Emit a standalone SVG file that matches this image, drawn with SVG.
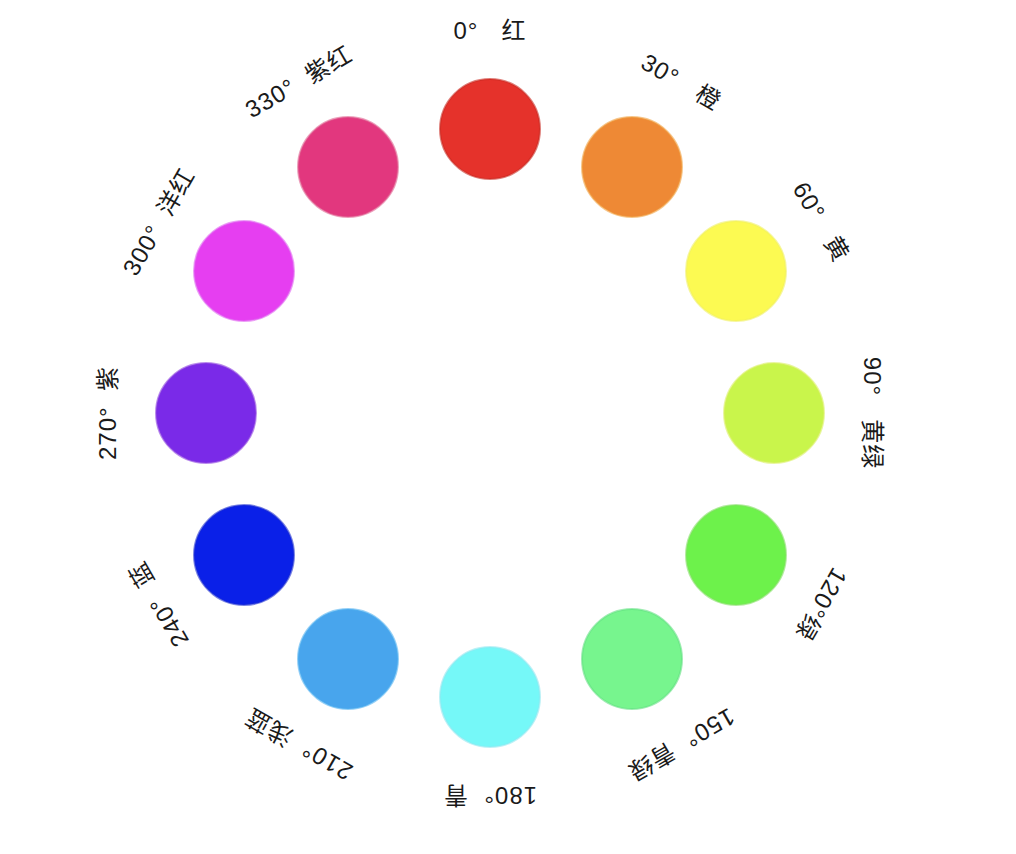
<svg xmlns="http://www.w3.org/2000/svg" width="1016" height="854" viewBox="0 0 1016 854">
<style>
.c{stroke-width:2;stroke-opacity:0.6}
.t{font-family:"Liberation Sans","Noto Sans CJK SC",sans-serif;font-size:24px;letter-spacing:1px;fill:#1a1a1a;text-anchor:middle}
</style>
<rect width="1016" height="854" fill="#ffffff"/>
<g id="connectors"></g>
<g id="h0"><circle class="c" cx="490" cy="129" r="50" fill="#e5322b" stroke="#c8281f"/><text class="t" transform="rotate(0 490 413)" x="490" y="39" xml:space="preserve">0°   红</text></g>
<g id="h30"><circle class="c" cx="632" cy="167" r="50" fill="#ee8935" stroke="#f0a040"/><text class="t" transform="rotate(30 490 413)" x="490" y="39" xml:space="preserve">30°   橙</text></g>
<g id="h60"><circle class="c" cx="736" cy="271" r="50" fill="#fcfa52" stroke="#f0f060"/><text class="t" transform="rotate(60 490 413)" x="490" y="39" xml:space="preserve">60°   黄</text></g>
<g id="h90"><circle class="c" cx="774" cy="413" r="50" fill="#c9f54b" stroke="#d8f060"/><text class="t" transform="rotate(90 490 413)" x="490" y="39" xml:space="preserve">90°   黄绿</text></g>
<g id="h120"><circle class="c" cx="736" cy="555" r="50" fill="#6df24b" stroke="#80e060"/><text class="t" transform="rotate(120 490 413)" x="490" y="39">120°绿</text></g>
<g id="h150"><circle class="c" cx="632" cy="659" r="50" fill="#77f58e" stroke="#60e080"/><text class="t" transform="rotate(150 490 413)" x="490" y="39" xml:space="preserve">150°  青绿</text></g>
<g id="h180"><circle class="c" cx="490" cy="697" r="50" fill="#75f8f8" stroke="#90e8f0"/><text class="t" transform="rotate(180 490 413)" x="490" y="39" xml:space="preserve">180°  青</text></g>
<g id="h210"><circle class="c" cx="348" cy="659" r="50" fill="#48a5ed" stroke="#50b0f0"/><text class="t" transform="rotate(210 490 413)" x="490" y="39" xml:space="preserve">210°  浅蓝</text></g>
<g id="h240"><circle class="c" cx="244" cy="555" r="50" fill="#0a20e8" stroke="#2030d0"/><text class="t" transform="rotate(240 490 413)" x="490" y="39" xml:space="preserve">240°  蓝</text></g>
<g id="h270"><circle class="c" cx="206" cy="413" r="50" fill="#7a2ae8" stroke="#8a40e0"/><text class="t" transform="rotate(270 490 413)" x="490" y="39" xml:space="preserve">270°  紫</text></g>
<g id="h300"><circle class="c" cx="244" cy="271" r="50" fill="#e63ef1" stroke="#e060f0"/><text class="t" transform="rotate(300 490 413)" x="490" y="39" xml:space="preserve">300°  洋红</text></g>
<g id="h330"><circle class="c" cx="348" cy="167" r="50" fill="#e2377e" stroke="#e06090"/><text class="t" transform="rotate(330 490 413)" x="490" y="39" xml:space="preserve">330°  紫红</text></g>
</svg>
